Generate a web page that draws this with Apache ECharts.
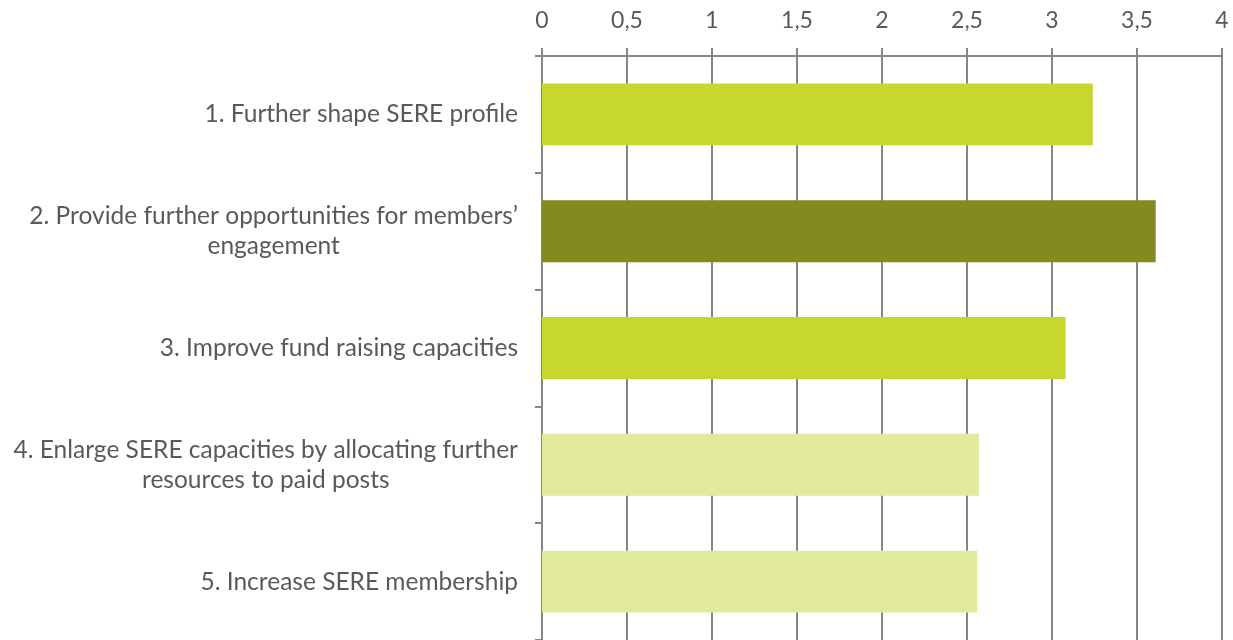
<!DOCTYPE html>
<html>
<head>
<meta charset="utf-8">
<script src="https://cdn.jsdelivr.net/npm/echarts@6/dist/echarts.min.js"></script>
<style>
    html, body { margin: 0; padding: 0; background: #fff; }
    #chart { width: 1233px; height: 640px; }
</style>
</head>
<body>
<div id="chart"></div>
<script>
    const categories = [
        '1. Further shape SERE profile',
        '2. Provide further opportunities for members\u2019\nengagement',
        '3. Improve fund raising capacities',
        '4. Enlarge SERE capacities by allocating further\nresources to paid posts',
        '5. Increase SERE membership'
    ];
    const values = [3.24, 3.61, 3.08, 2.57, 2.56];
    const barColors = ['#c8d72e', '#838a1e', '#c8d72e', '#e1e99a', '#e1e99a'];
    const xTicks = [0, 0.5, 1, 1.5, 2, 2.5, 3, 3.5, 4];

    const font = 'Lato, "Open Sans", sans-serif';
    const gridGray = '#868686';

    const chart = echarts.init(document.getElementById('chart'));
    const option = {
        animation: false,
        grid: { left: 542, right: 11, top: 56, height: 585 },
        xAxis: {
            type: 'value',
            position: 'top',
            min: xTicks[0],
            max: xTicks[xTicks.length - 1],
            interval: 0.5,
            axisLine: { show: true, lineStyle: { color: gridGray, width: 2 } },
            axisTick: { show: true, length: 8, lineStyle: { color: gridGray, width: 2 } },
            splitLine: { show: true, lineStyle: { color: gridGray, width: 2 } },
            axisLabel: {
                margin: 24,
                color: '#595959',
                fontFamily: font,
                fontSize: 23,
                formatter: function (v) { return String(v).replace('.', ','); }
            }
        },
        yAxis: {
            type: 'category',
            inverse: true,
            data: categories,
            axisLine: { show: true, lineStyle: { color: gridGray, width: 2 } },
            axisTick: { show: true, length: 7, lineStyle: { color: gridGray, width: 2 } },
            axisLabel: {
                margin: 24,
                formatter: function (v) {
                    return v.split('\n').map(function (s) { return '{a|' + s + '}'; }).join('\n');
                },
                rich: {
                    a: {
                        align: 'center',
                        color: '#595959',
                        fontFamily: font,
                        fontSize: 24.5,
                        lineHeight: 30
                    }
                }
            }
        },
        series: [{
            type: 'bar',
            data: values.map(function (v, i) {
                return { value: v, itemStyle: { color: barColors[i] } };
            }),
            barCategoryGap: '47%'
        }]
    };
    chart.setOption(option);
</script>
</body>
</html>
